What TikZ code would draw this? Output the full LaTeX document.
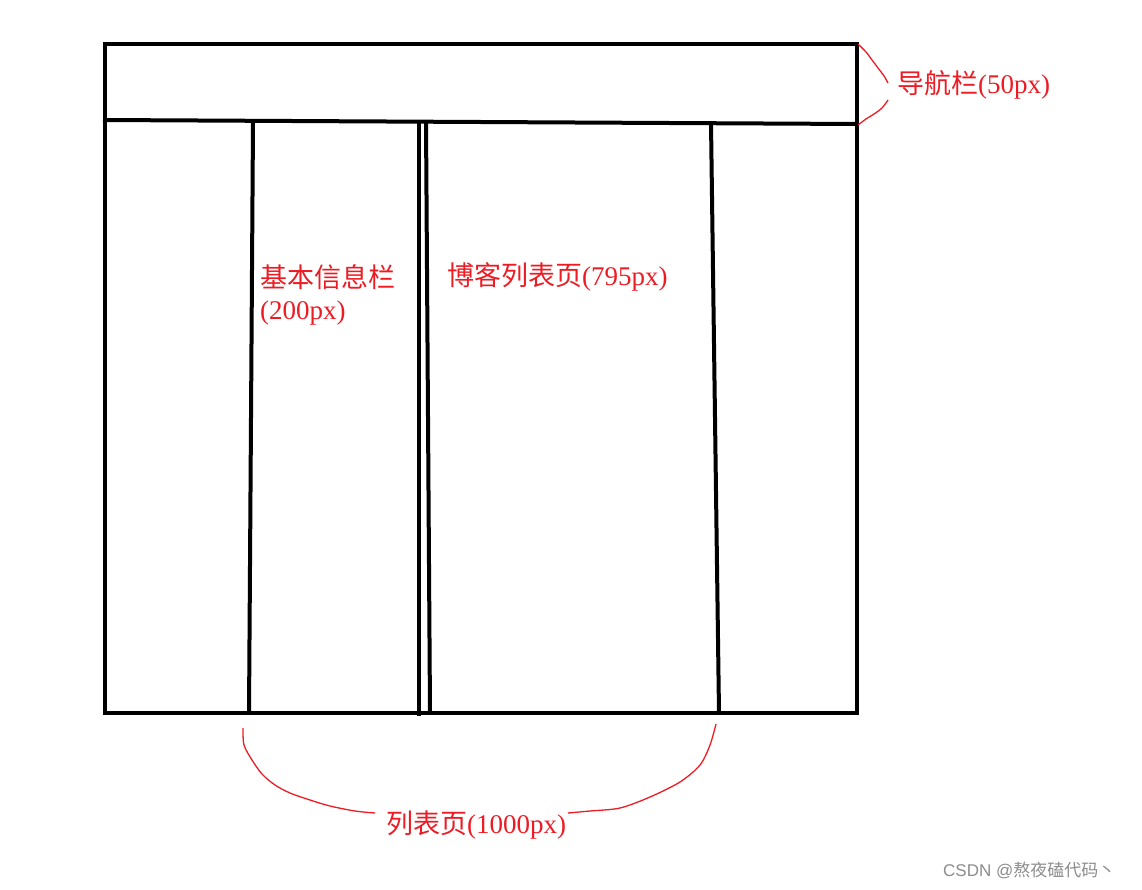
\documentclass[tikz,border=0pt]{standalone}
\usepackage{fontspec}
\setmainfont{Liberation Serif}
\newfontfamily\cjk{Noto Sans CJK SC}
\newfontfamily\wmfont{Liberation Sans}
\definecolor{pen}{RGB}{237,28,36}
\tikzset{
  frame/.style={line width=4pt},
  sketch/.style={pen, line width=1.3pt, smooth},
  tag/.style={text=pen, font=\fontsize{27}{30}\selectfont, inner sep=0pt, anchor=west},
  wm/.style={text=black!45, font=\wmfont\fontsize{17}{20}\selectfont, inner sep=0pt, anchor=west},
}
\begin{document}
\begin{tikzpicture}[x=1pt,y=-1pt]
\useasboundingbox (0,0) rectangle (1142,890);
% page frame and nav bar
\draw[frame] (105,44) rectangle (857,713);
\draw[frame] (103,120) -- (857,124);
% columns
\draw[frame] (253,122) -- (249,713);
\draw[frame] (419,122) -- (419,716);
\draw[frame] (426,122) -- (430,713);
\draw[frame] (711,123) -- (719,713);

% nav bar bracket
\draw[sketch] plot coordinates {
(858,44) (866,52) (872,60) (878,68) (884,76) (888,83)
};
\draw[sketch] plot coordinates {
(888,100) (882,108) (874,114) (866,119) (858,125)
};
\node[tag] (nav) at (897,85) {{\cjk 导航栏}(50px)};

% column labels
\node[tag] (info) at (260,277) {{\cjk 基本信息栏}};
\node[tag] (infow) at (260,313) {(200px)};
\node[tag] (blog) at (447,277) {{\cjk 博客列表页}(795px)};

% list page brace
\draw[sketch] plot coordinates {
(243,728) (244,745) (252,760) (262,774) (275,785)
(290,793) (310,800) (330,806) (355,811) (375,813)
};
\draw[sketch] plot coordinates {
(568,813) (590,811) (620,808) (650,797) (680,782)
(700,765) (710,745) (716,724)
};
\node[tag] (list) at (386,825) {{\cjk 列表页}(1000px)};

\node[wm] (mark) at (943,870) {CSDN @{\cjk 熬夜磕代码丶}};
\end{tikzpicture}
\end{document}
